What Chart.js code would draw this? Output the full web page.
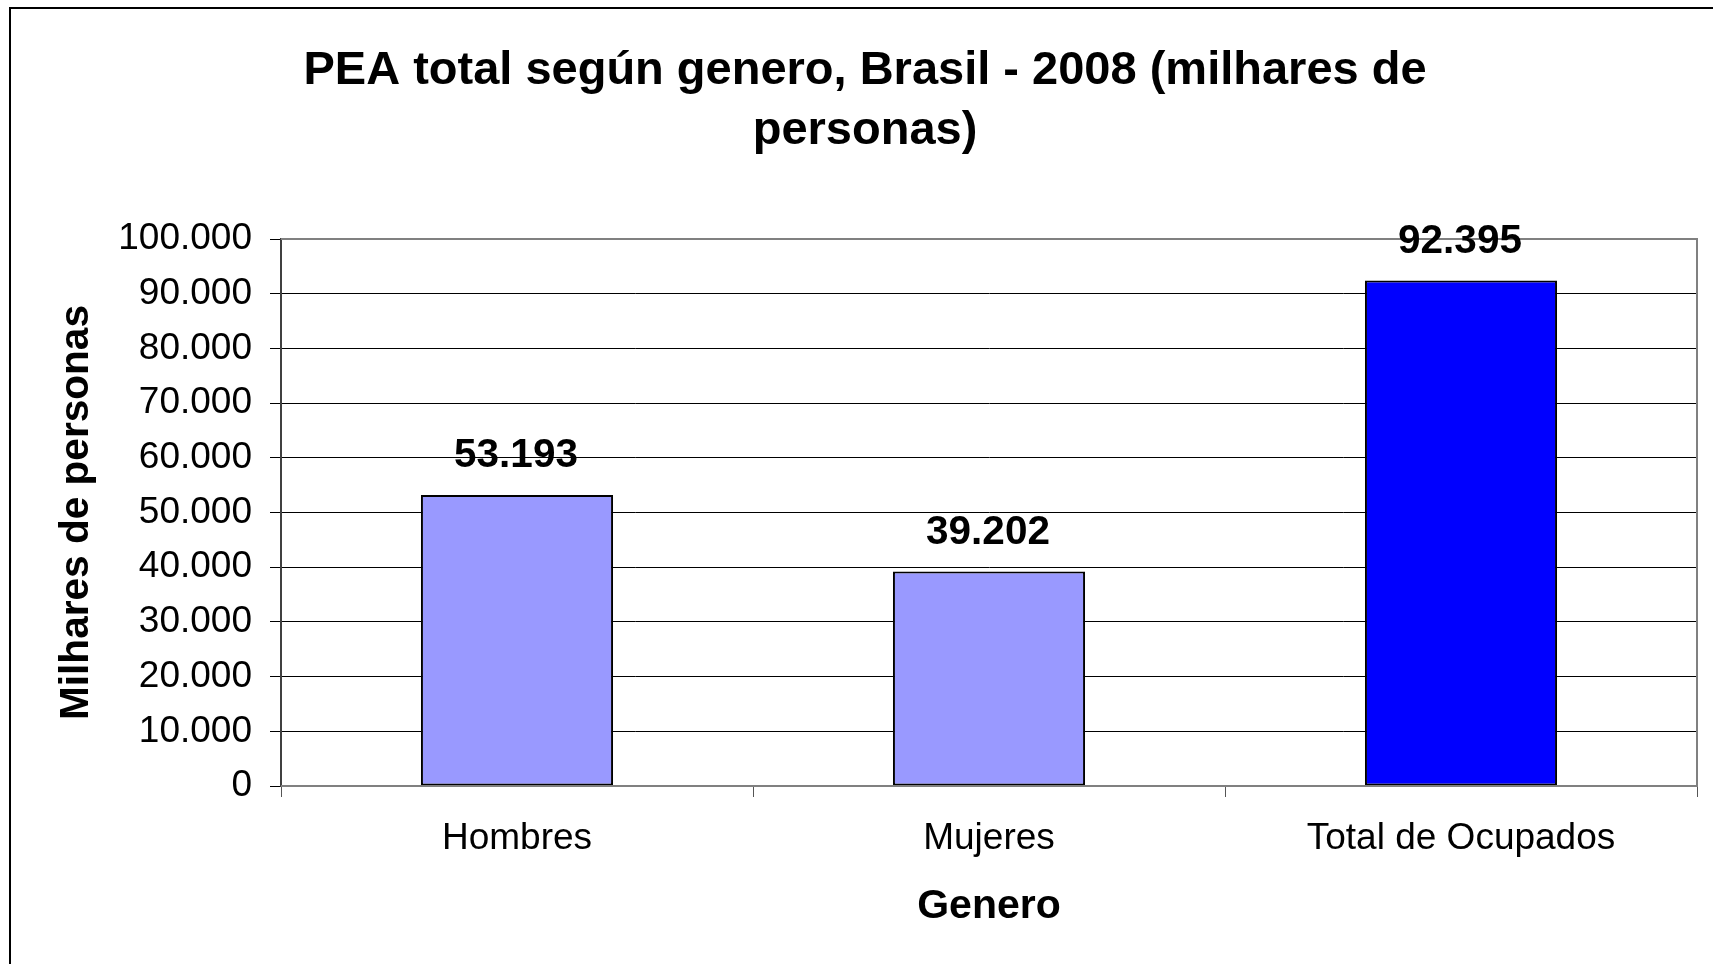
<!DOCTYPE html>
<html>
<head>
<meta charset="utf-8">
<script src="https://cdn.jsdelivr.net/npm/chart.js@4"></script>
<style>
  html, body { margin: 0; padding: 0; background: #ffffff; }
  #wrap { width: 1713px; height: 964px; }
</style>
</head>
<body>
<div id="wrap"><canvas id="chart" width="1713" height="964"></canvas></div>
<script>
// data
const categories = ["Hombres", "Mujeres", "Total de Ocupados"];
const values = [53193, 39202, 92395];
const barColors = ["#9999FF", "#9999FF", "#0000FF"];
const titleLines = ["PEA total según genero, Brasil - 2008 (milhares de", "personas)"];

const FONT = "Arial, 'Liberation Sans', sans-serif";

// 53193 -> "53.193"
function fmt(n) {
  return String(Math.round(n)).replace(/\B(?=(\d{3})+(?!\d))/g, ".");
}

// frame lines (only left and top are visible in the picture), title, grey plot border
const framePlugin = {
  id: "frame",
  beforeDraw(chart) {
    const ctx = chart.ctx;
    ctx.save();
    ctx.fillStyle = "#ffffff";
    ctx.fillRect(0, 0, chart.width, chart.height);
    ctx.strokeStyle = "#000000";
    ctx.lineWidth = 2;
    ctx.beginPath();
    ctx.moveTo(10, chart.height);
    ctx.lineTo(10, 8);
    ctx.lineTo(chart.width, 8);
    ctx.stroke();

    // title is centred a bit left of the plot, like the original
    ctx.font = "bold 47px " + FONT;
    ctx.fillStyle = "#000000";
    ctx.textAlign = "center";
    ctx.textBaseline = "middle";
    titleLines.forEach((line, i) => {
      ctx.fillText(line, 865, 71 + i * 60);
    });
    ctx.restore();
  },
  afterDatasetsDraw(chart) {
    const a = chart.chartArea;
    const ctx = chart.ctx;
    ctx.save();
    ctx.strokeStyle = "#808080";
    ctx.lineWidth = 2;
    ctx.beginPath();
    ctx.moveTo(a.left, a.top);
    ctx.lineTo(a.right, a.top);
    ctx.lineTo(a.right, a.bottom);
    ctx.lineTo(a.left, a.bottom);
    ctx.stroke();
    ctx.restore();
  }
};

// value labels above each bar
const valueLabels = {
  id: "valueLabels",
  afterDatasetsDraw(chart) {
    const ctx = chart.ctx;
    const meta = chart.getDatasetMeta(0);
    ctx.save();
    ctx.font = "bold 40.5px " + FONT;
    ctx.fillStyle = "#000000";
    ctx.textAlign = "center";
    ctx.textBaseline = "alphabetic";
    meta.data.forEach((bar, i) => {
      ctx.fillText(fmt(values[i]), bar.x - 1, bar.y - 28);
    });
    ctx.restore();
  }
};

new Chart(document.getElementById("chart"), {
  type: "bar",
  data: {
    labels: categories,
    datasets: [{
      data: values,
      backgroundColor: barColors,
      borderColor: "#000000",
      borderWidth: 2,
      borderSkipped: false,
      barPercentage: 0.407,
      categoryPercentage: 1.0
    }]
  },
  options: {
    responsive: false,
    animation: false,
    layout: { padding: { left: 0, top: 239, right: 16, bottom: 0 } },
    plugins: {
      legend: { display: false },
      tooltip: { enabled: false },
      title: { display: false }
    },
    scales: {
      x: {
        grid: {
          display: true,
          drawOnChartArea: false,
          drawTicks: true,
          tickLength: 11,
          color: "#555555",
          lineWidth: 1
        },
        border: { display: true, color: "#808080", width: 2 },
        ticks: {
          color: "#000000",
          font: { family: FONT, size: 37 },
          padding: 20
        },
        title: {
          display: true,
          text: "Genero",
          color: "#000000",
          font: { family: FONT, size: 41, weight: "bold" },
          padding: { top: 0, bottom: 33 }
        },
        afterFit(scale) { scale.height = 178; }
      },
      y: {
        min: 0,
        max: 100000,
        ticks: {
          stepSize: 10000,
          color: "#000000",
          font: { family: FONT, size: 37 },
          padding: 18,
          callback: (v) => fmt(v)
        },
        grid: {
          color: "#000000",
          lineWidth: 1,
          drawTicks: true,
          tickLength: 11
        },
        border: { display: true, color: "#404040", width: 2 },
        title: {
          display: true,
          text: "Milhares de personas",
          color: "#000000",
          font: { family: FONT, size: 40.6, weight: "bold" },
          padding: { top: 52, bottom: 0 }
        },
        afterFit(scale) { scale.width = 281; }
      }
    }
  },
  plugins: [framePlugin, valueLabels]
});
</script>
</body>
</html>
